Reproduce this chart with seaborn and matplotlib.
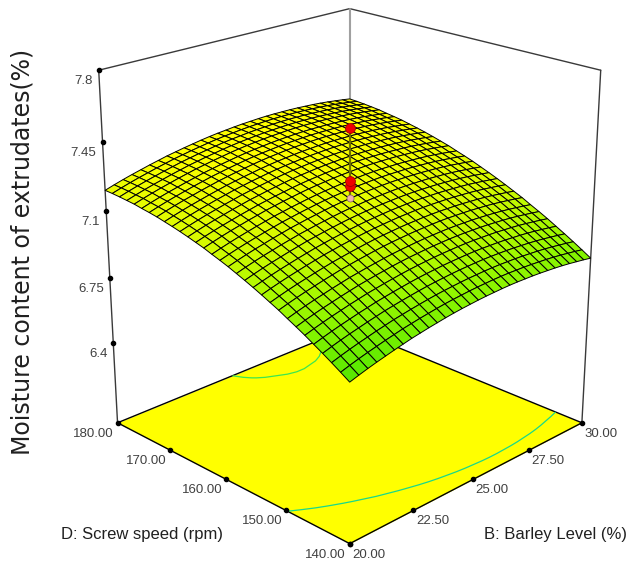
import numpy as np
import matplotlib
matplotlib.use("Agg")
import matplotlib.pyplot as plt
import seaborn as sns
from mpl_toolkits.mplot3d import proj3d

# ---- values ----
barley_levels = [20 + 10 * k / 30 for k in range(31)]
screw_speeds = [140 + 40 * k / 30 for k in range(31)]
# height change along Barley Level (relative to the 25 % section)
barley_profile = [-0.130, -0.116, -0.103, -0.091, -0.080, -0.069, -0.059, -0.049, -0.041, -0.033, -0.026,
                  -0.019, -0.013, -0.008, -0.004, 0.000, 0.003, 0.005, 0.007, 0.008, 0.008,
                  0.007, 0.006, 0.004, 0.001, -0.002, -0.006, -0.011, -0.017, -0.023, -0.030]
# moisture along Screw speed at Barley Level = 25 %
speed_profile = [6.885, 6.913, 6.940, 6.966, 6.991, 7.016, 7.039, 7.061, 7.084, 7.104, 7.124,
                 7.143, 7.161, 7.178, 7.195, 7.210, 7.224, 7.239, 7.251, 7.263, 7.274,
                 7.284, 7.293, 7.302, 7.309, 7.315, 7.322, 7.326, 7.330, 7.333, 7.335]
contour_levels = [6.938, 7.331]
design_above = [7.52, 7.25, 7.225]
design_below = [7.165]
center_b, center_d = 25, 160
z_ticks = [6.4, 6.75, 7.1, 7.45, 7.8]
z_labels = ["6.4", "6.75", "7.1", "7.45", "7.8"]
b_ticks = [20, 22.5, 25, 27.5, 30]
b_labels = ["20.00", "22.50", "25.00", "27.50", "30.00"]
d_ticks = [140, 150, 160, 170, 180]
d_labels = ["140.00", "150.00", "160.00", "170.00", "180.00"]
z_floor, z_top = 5.96, 7.8

W, H = 629, 564
SANS = 'Liberation Sans'

sns.set_style("white")
fig = plt.figure(figsize=(W / 100, H / 100), dpi=100, facecolor='white')

# view fitted to the box corners of the picture
K, cx, cy = 3219.76, 349.71, 253.37
A = K * 0.185
rect = [(cx - K * 0.095) / W, (H - (cy + K * 0.095)) / H, A / W, A / H]
ax = fig.add_axes(rect, projection='3d', computed_zorder=False)
ax.set_xlim(20, 30)
ax.set_ylim(140, 180)
ax.set_zlim(z_floor, z_top)
ax.set_box_aspect((1, 1, 1.1113))
ax.view_init(elev=21.792, azim=-135)
ax.set_proj_type('persp', focal_length=0.5606)
ax.set_axis_off()

B, D = np.meshgrid(barley_levels, screw_speeds)
Z = np.add.outer(np.array(speed_profile), np.array(barley_profile))

cmap = sns.blend_palette(["#58e800", "#9cf800", "#d8fa00", "#ffff00"], as_cmap=True)
norm = plt.Normalize(6.75, 7.30)

# box lines behind the surface
def seg(p, q, **kw):
    ax.plot([p[0], q[0]], [p[1], q[1]], [p[2], q[2]], **kw)

line = dict(color='#3a3a3a', lw=1.0, zorder=0)
seg((20, 180, z_top), (30, 180, z_top), **line)
seg((30, 180, z_top), (30, 140, z_top), **line)
seg((20, 180, z_floor), (20, 180, z_top), **line)
seg((30, 140, z_floor), (30, 140, z_top), **line)
seg((30, 180, z_floor), (30, 180, z_top), color='#a0a0a0', lw=1.5, zorder=0)

# floor
ax.plot_surface(np.array([[20, 30], [20, 30]]), np.array([[140, 140], [180, 180]]),
                np.full((2, 2), z_floor), color='#ffff00', shade=False, linewidth=0, zorder=1)
edge = dict(color='black', lw=1.0, zorder=2)
seg((20, 140, z_floor), (30, 140, z_floor), **edge)
seg((20, 140, z_floor), (20, 180, z_floor), **edge)
seg((20, 180, z_floor), (30, 180, z_floor), **edge)
seg((30, 180, z_floor), (30, 140, z_floor), **edge)
ax.contour(B, D, Z, levels=contour_levels, colors=['#18d88c', '#3ce650'], linewidths=0.9,
           zdir='z', offset=z_floor, zorder=2)

# response surface
ax.plot_surface(B, D, Z, rstride=1, cstride=1, facecolors=cmap(norm(Z)), shade=False,
                edgecolor='black', linewidth=0.7, antialiased=True, zorder=3)

# design points
ax.plot([center_b] * 2, [center_d] * 2, [design_below[0], design_above[0]], color='#6e6e00', lw=1.6, zorder=4)
ax.scatter([center_b] * len(design_below), [center_d] * len(design_below), design_below, s=26, c='#f0b0b0',
           edgecolors='#806060', linewidths=0.5, depthshade=False, zorder=5)
ax.scatter([center_b] * len(design_above), [center_d] * len(design_above), design_above, s=50, c='#f00000',
           edgecolors='#a00000', linewidths=0.6, depthshade=False, zorder=6)

# ticks
tick = dict(color='black', marker='o', ms=3.0, ls='none', zorder=7)
ax.plot([20] * len(z_ticks), [180] * len(z_ticks), z_ticks, **tick)
ax.plot(b_ticks, [140] * len(b_ticks), [z_floor] * len(b_ticks), **tick)
ax.plot([20] * len(d_ticks), d_ticks, [z_floor] * len(d_ticks), **tick)

M = ax.get_proj()
def label(x, y, z, s, dx, dy, ha):
    xp, yp, _ = proj3d.proj_transform(x, y, z, M)
    ax.annotate(s, xy=(xp, yp), xytext=(dx * 0.72, dy * 0.72), textcoords='offset points', ha=ha, va='center',
                fontsize=9.5, color='#404040', family=SANS, annotation_clip=False)

for v, s in zip(z_ticks, z_labels):
    label(20, 180, v, s, -6, -11, 'right')
for v, s in zip(b_ticks, b_labels):
    label(v, 140, z_floor, s, 19, -11, 'center')
for v, s in zip(d_ticks, d_labels):
    label(20, v, z_floor, s, -24, -11, 'center')

fig.text(142 / W, 1 - 534 / H, "D: Screw speed (rpm)", ha='center', va='center', fontsize=12, color='#202020', family=SANS)
fig.text(555 / W, 1 - 534 / H, "B: Barley Level (%)", ha='center', va='center', fontsize=12, color='#202020', family=SANS)
fig.text(23 / W, 1 - 252 / H, "Moisture content of extrudates(%)", ha='center', va='center', rotation=90,
         fontsize=17, color='#202020', family='DejaVu Sans')

fig.savefig("out.png", dpi=100, facecolor='white')
